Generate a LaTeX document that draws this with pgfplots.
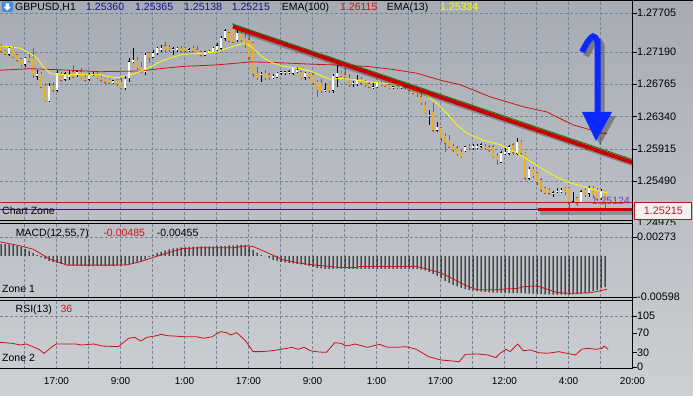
\documentclass[border=0pt]{standalone}
\usepackage{pgfplots}
\pgfplotsset{compat=1.18}
\usepackage{pgfplotstable}
\usepackage{fontspec}
\setmainfont{Liberation Sans}
\definecolor{bgtop}{RGB}{167,172,180}
\definecolor{bgbot}{RGB}{204,207,211}
\definecolor{gridc}{RGB}{118,132,152}
\definecolor{bearfill}{RGB}{240,172,30}
\definecolor{bearline}{RGB}{160,88,18}
\definecolor{emared}{RGB}{200,20,20}
\definecolor{emayel}{RGB}{255,255,0}
\definecolor{trend}{RGB}{200,0,0}
\definecolor{trendg}{RGB}{30,120,30}
\definecolor{lowpur}{RGB}{80,20,120}
\definecolor{purtxt}{RGB}{110,60,200}
\definecolor{arrowblue}{RGB}{10,40,255}
\definecolor{hdrblue}{RGB}{20,20,140}
\definecolor{iconblue}{RGB}{70,140,220}

\pgfplotstableread{
x o h l c
9 1.2716 1.2725 1.2714 1.2724
25 1.2703 1.2712 1.2699 1.2711
37 1.2687 1.2695 1.2682 1.2690
49 1.2655 1.2678 1.2653 1.2674
57 1.2669 1.2695 1.2666 1.2691
65 1.2683 1.2693 1.2681 1.2690
69 1.2687 1.2695 1.2682 1.2689
77 1.2689 1.2695 1.2686 1.2693
89 1.2683 1.2691 1.2681 1.2689
93 1.2689 1.2693 1.2687 1.2690
113 1.2679 1.2682 1.2677 1.2681
125 1.2672 1.2689 1.2669 1.2683
129 1.2685 1.2711 1.2679 1.2706
133 1.2707 1.2724 1.2704 1.2708
145 1.2693 1.2718 1.2689 1.2715
153 1.2712 1.2722 1.2711 1.2718
157 1.2718 1.2725 1.2715 1.2724
161 1.2723 1.2728 1.2719 1.2724
173 1.2722 1.2725 1.2715 1.2723
177 1.2723 1.2725 1.2719 1.2724
189 1.2721 1.2724 1.2719 1.2722
205 1.2715 1.2720 1.2714 1.2719
209 1.2719 1.2722 1.2718 1.2720
213 1.2719 1.2725 1.2718 1.2724
217 1.2722 1.2731 1.2719 1.2727
221 1.2724 1.2740 1.2720 1.2737
225 1.2737 1.2749 1.2733 1.2747
237 1.2735 1.2750 1.2732 1.2744
261 1.2689 1.2693 1.2679 1.2690
273 1.2685 1.2690 1.2683 1.2687
277 1.2686 1.2693 1.2685 1.2691
281 1.2691 1.2694 1.2689 1.2693
285 1.2692 1.2694 1.2689 1.2693
289 1.2692 1.2695 1.2690 1.2693
293 1.2691 1.2699 1.2689 1.2698
297 1.2694 1.2699 1.2691 1.2695
305 1.2686 1.2693 1.2682 1.2691
325 1.2668 1.2678 1.2666 1.2669
333 1.2669 1.2690 1.2665 1.2687
337 1.2686 1.2702 1.2673 1.2691
353 1.2677 1.2681 1.2673 1.2678
357 1.2677 1.2689 1.2674 1.2682
373 1.2672 1.2678 1.2670 1.2673
377 1.2673 1.2679 1.2672 1.2678
393 1.2672 1.2674 1.2670 1.2673
401 1.2672 1.2678 1.2670 1.2674
429 1.2635 1.2643 1.2623 1.2636
437 1.2616 1.2627 1.2614 1.2620
465 1.2589 1.2595 1.2587 1.2594
473 1.2593 1.2598 1.2590 1.2595
477 1.2594 1.2598 1.2591 1.2595
481 1.2595 1.2599 1.2593 1.2597
501 1.2574 1.2589 1.2573 1.2586
505 1.2586 1.2593 1.2583 1.2587
509 1.2586 1.2597 1.2583 1.2594
517 1.2586 1.2606 1.2583 1.2600
529 1.2553 1.2568 1.2551 1.2565
553 1.2533 1.2536 1.2528 1.2534
557 1.2535 1.2540 1.2533 1.2536
561 1.2536 1.2540 1.2533 1.2537
573 1.2521 1.2535 1.2520 1.2522
581 1.2521 1.2537 1.2520 1.2535
589 1.2533 1.2543 1.2528 1.2540
601 1.2527 1.2539 1.2524 1.2536
}\bull

\pgfplotstableread{
x o h l c
1 1.2727 1.2729 1.2719 1.2720
5 1.2720 1.2722 1.2715 1.2716
13 1.2724 1.2727 1.2711 1.2712
17 1.2715 1.2716 1.2706 1.2708
21 1.2710 1.2711 1.2699 1.2702
29 1.2711 1.2718 1.2706 1.2707
33 1.2711 1.2724 1.2685 1.2689
41 1.2690 1.2693 1.2672 1.2673
45 1.2674 1.2678 1.2653 1.2655
53 1.2674 1.2679 1.2666 1.2669
61 1.2689 1.2693 1.2679 1.2682
73 1.2693 1.2702 1.2685 1.2686
81 1.2693 1.2698 1.2683 1.2685
85 1.2686 1.2689 1.2679 1.2682
97 1.2690 1.2693 1.2683 1.2685
101 1.2686 1.2689 1.2679 1.2682
105 1.2683 1.2685 1.2676 1.2679
109 1.2682 1.2683 1.2677 1.2678
117 1.2682 1.2683 1.2674 1.2677
121 1.2679 1.2685 1.2670 1.2672
137 1.2708 1.2712 1.2695 1.2698
141 1.2699 1.2706 1.2691 1.2693
149 1.2718 1.2719 1.2704 1.2711
165 1.2727 1.2732 1.2719 1.2722
169 1.2725 1.2728 1.2719 1.2722
181 1.2724 1.2727 1.2719 1.2720
185 1.2724 1.2725 1.2719 1.2720
193 1.2724 1.2727 1.2719 1.2720
197 1.2722 1.2727 1.2716 1.2718
201 1.2719 1.2720 1.2712 1.2715
229 1.2744 1.2745 1.2732 1.2733
233 1.2750 1.2757 1.2731 1.2732
241 1.2744 1.2748 1.2732 1.2735
245 1.2737 1.2744 1.2724 1.2731
249 1.2735 1.2741 1.2708 1.2712
253 1.2731 1.2732 1.2686 1.2690
257 1.2691 1.2699 1.2682 1.2685
265 1.2691 1.2695 1.2682 1.2685
269 1.2689 1.2691 1.2682 1.2685
301 1.2693 1.2694 1.2683 1.2685
309 1.2691 1.2693 1.2683 1.2686
313 1.2689 1.2691 1.2676 1.2678
317 1.2679 1.2682 1.2660 1.2669
321 1.2678 1.2683 1.2665 1.2668
329 1.2678 1.2679 1.2665 1.2669
341 1.2691 1.2694 1.2686 1.2687
345 1.2689 1.2698 1.2685 1.2686
349 1.2683 1.2690 1.2673 1.2676
361 1.2683 1.2686 1.2676 1.2678
365 1.2679 1.2682 1.2673 1.2676
369 1.2677 1.2679 1.2672 1.2673
381 1.2678 1.2681 1.2674 1.2676
385 1.2678 1.2679 1.2673 1.2674
389 1.2676 1.2678 1.2670 1.2672
397 1.2674 1.2676 1.2670 1.2672
405 1.2676 1.2677 1.2670 1.2673
409 1.2673 1.2678 1.2666 1.2669
413 1.2672 1.2673 1.2664 1.2665
417 1.2670 1.2673 1.2660 1.2664
421 1.2660 1.2666 1.2649 1.2652
425 1.2649 1.2653 1.2637 1.2639
433 1.2640 1.2652 1.2614 1.2616
441 1.2619 1.2620 1.2600 1.2606
445 1.2608 1.2612 1.2587 1.2599
449 1.2603 1.2610 1.2593 1.2594
453 1.2595 1.2598 1.2587 1.2590
457 1.2593 1.2595 1.2582 1.2585
461 1.2587 1.2590 1.2580 1.2581
469 1.2595 1.2598 1.2590 1.2593
485 1.2595 1.2598 1.2590 1.2593
489 1.2594 1.2597 1.2587 1.2590
493 1.2594 1.2597 1.2579 1.2581
497 1.2582 1.2586 1.2570 1.2577
513 1.2597 1.2599 1.2583 1.2587
521 1.2600 1.2603 1.2583 1.2586
525 1.2586 1.2587 1.2551 1.2553
533 1.2565 1.2568 1.2553 1.2556
537 1.2560 1.2561 1.2544 1.2548
541 1.2551 1.2553 1.2535 1.2537
545 1.2540 1.2541 1.2532 1.2533
549 1.2537 1.2540 1.2531 1.2533
565 1.2540 1.2541 1.2531 1.2535
569 1.2540 1.2541 1.25124 1.2520
577 1.2527 1.2528 1.2517 1.2520
585 1.2537 1.2540 1.2528 1.2531
593 1.2540 1.2543 1.2528 1.2531
597 1.2537 1.2540 1.2523 1.2525
605 1.25360 1.25365 1.25138 1.25215
}\bear

\newcommand{\lbl}{\fontsize{10.5}{12}\selectfont}

\pgfplotsset{
  pane/.style={
    scale only axis, width=633pt, xmin=0, xmax=633,
    axis line style={draw=none},
    scaled y ticks=false, scaled x ticks=false,
    xtick={24.5,56.5,...,632.5}, xticklabels={},
    xmajorgrids, ymajorgrids,
    grid style={gridc, dash pattern=on 3pt off 2pt, line width=0.6pt},
    xtick style={draw=none},
    ytick pos=right, yticklabel pos=right,
    ytick align=outside, major tick length=4pt,
    ytick style={draw=black, line width=0.6pt},
    yticklabel style={font=\fontsize{10.8}{12}\selectfont, anchor=west, inner sep=0pt},
    clip=true,
  },
  wick/.style={only marks, mark=*, mark size=0pt, mark options={draw=none, fill=none}, forget plot,
    error bars/.cd, y dir=both, y explicit, error mark=none,
    error mark options={draw=none, fill=none, mark size=0pt},
    error bar style={line width=0.6pt, #1}},
  body/.style 2 args={only marks, mark=*, mark size=0pt, mark options={draw=none, fill=none}, forget plot,
    error bars/.cd, y dir=both, y explicit, error mark=none,
    error mark options={draw=none, fill=none, mark size=0pt},
    error bar style={line width=#1, line cap=butt, #2}},
}

\begin{document}
\begin{tikzpicture}
\useasboundingbox (0,0) rectangle (693pt,396pt);
\shade[top color=bgtop, bottom color=bgbot] (0,0) rectangle (693pt,396pt);

% ---------------- main price pane ----------------
\begin{axis}[pane, at={(0pt,175.5pt)}, anchor=south west, height=220.5pt,
  ymin=1.24972, ymax=1.27874,
  ytick={1.25490,1.25915,1.26340,1.26765,1.27190,1.27705},
  yticklabels={1.25490,1.25915,1.26340,1.26765,1.27190,1.27705}]
% wicks
\addplot[wick={bearline}] table[x=x, y expr={(\thisrow{h}+\thisrow{l})/2}, y error expr={(\thisrow{h}-\thisrow{l})/2}] {\bear};
\addplot[wick={black}] table[x=x, y expr={(\thisrow{h}+\thisrow{l})/2}, y error expr={(\thisrow{h}-\thisrow{l})/2}] {\bull};
% bodies: outline then fill
\addplot[body={2.8pt}{bearline}] table[x=x, y expr={(\thisrow{o}+\thisrow{c})/2}, y error expr={abs(\thisrow{o}-\thisrow{c})/2+0.00007}] {\bear};
\addplot[body={1.4pt}{bearfill}] table[x=x, y expr={(\thisrow{o}+\thisrow{c})/2}, y error expr={abs(\thisrow{o}-\thisrow{c})/2}] {\bear};
\addplot[body={2.8pt}{black}] table[x=x, y expr={(\thisrow{o}+\thisrow{c})/2}, y error expr={abs(\thisrow{o}-\thisrow{c})/2+0.00007}] {\bull};
\addplot[body={1.4pt}{white}] table[x=x, y expr={(\thisrow{o}+\thisrow{c})/2}, y error expr={abs(\thisrow{o}-\thisrow{c})/2}] {\bull};
% EMA(100)
\addplot[emared, line width=0.8pt] coordinates {(0,1.2695)(30,1.2697)(70,1.2695)(100,1.2693)(140,1.2694)(160,1.2697)(183,1.2700)(217,1.2702)(243,1.2705)(250,1.2706)(277,1.2705)(310,1.2703)(333,1.2702)(367,1.2700)(393,1.2696)(417,1.2691)(440,1.2682)(460,1.2676)(490,1.2660)(523,1.2647)(547,1.2640)(573,1.2623)(603,1.2612)(607,1.26115)};
% EMA(13)
\addplot[emayel, line width=0.8pt] coordinates {(0,1.2727)(10,1.2726)(20,1.2724)(30,1.2717)(37,1.2711)(43,1.2700)(50,1.2691)(53,1.2690)(70,1.2689)(100,1.2689)(107,1.2687)(117,1.2685)(123,1.2687)(133,1.2690)(143,1.2695)(150,1.2699)(160,1.2706)(170,1.2711)(183,1.2716)(200,1.2717)(217,1.2719)(227,1.2724)(237,1.2728)(243,1.2730)(248,1.2729)(253,1.2724)(260,1.2715)(270,1.2706)(283,1.2700)(297,1.2698)(310,1.2694)(317,1.2690)(330,1.2683)(340,1.2684)(353,1.2683)(367,1.2680)(383,1.2678)(400,1.2676)(417,1.2671)(427,1.2662)(437,1.2651)(447,1.2638)(457,1.2623)(467,1.2612)(483,1.2603)(500,1.2597)(517,1.2586)(533,1.2573)(550,1.2559)(567,1.2548)(583,1.2542)(597,1.2537)(607,1.25334)};
% bid line and low line
\addplot[emared, line width=0.8pt] coordinates {(0,1.25215)(633,1.25215)};
\addplot[lowpur, line width=0.8pt] coordinates {(0,1.25124)(633,1.25124)};
% trend line with shadow
\addplot[black, opacity=0.25, line width=4pt] coordinates {(235.5,1.27486)(636,1.25699)};
\addplot[trend, line width=4pt] coordinates {(233,1.27525)(632,1.25738)};
\addplot[trendg, line width=0.9pt] coordinates {(232,1.27560)(634,1.25768)};
% horizontal support bar with shadow
\addplot[black, opacity=0.25, line width=3.5pt] coordinates {(540,1.25071)(634,1.25071)};
\addplot[trend, line width=3.5pt] coordinates {(538,1.25117)(632,1.25117)};
% blue arrow with shadow
\addplot[black, opacity=0.3, line width=6pt, smooth] coordinates {(586,1.27137)(591.5,1.27268)(597,1.27341)(601.5,1.27281)(601.5,1.27097)(601.5,1.26334)};
\addplot[black, opacity=0.3, fill=black, draw=none] coordinates {(586,1.26347)(616,1.26347)(600,1.25965)} -- cycle;
\addplot[arrowblue, line width=6pt, smooth] coordinates {(582,1.27190)(587.5,1.27321)(593,1.27394)(597.5,1.27334)(597.5,1.27150)(597.5,1.26387)};
\addplot[fill=arrowblue, draw=none] coordinates {(582,1.26400)(612,1.26400)(596,1.26018)} -- cycle;
\end{axis}

% ---------------- MACD pane ----------------
\begin{axis}[pane, at={(0pt,98.5pt)}, anchor=south west, height=74pt,
  ymin=-0.00605, ymax=0.00469,
  ytick={-0.00598,0.00273}, yticklabels={-0.00598,0.00273}]
\addplot[ybar, bar width=1pt, fill=black, draw=none] coordinates {(1,0.00170)(5,0.00170)(9,0.00167)(13,0.00160)(17,0.00145)(21,0.00131)(25,0.00102)(29,0.00073)(33,0.00044)(37,0.00015)(41,-0.00022)(45,-0.00044)(49,-0.00073)(53,-0.00087)(57,-0.00102)(61,-0.00116)(65,-0.00131)(69,-0.00135)(73,-0.00138)(77,-0.00142)(81,-0.00145)(85,-0.00147)(89,-0.00145)(93,-0.00148)(97,-0.00145)(101,-0.00146)(105,-0.00148)(109,-0.00147)(113,-0.00145)(117,-0.00143)(121,-0.00138)(125,-0.00131)(129,-0.00116)(133,-0.00102)(137,-0.00087)(141,-0.00073)(145,-0.00051)(149,-0.00015)(153,0.00015)(157,0.00044)(161,0.00058)(165,0.00080)(169,0.00094)(173,0.00109)(177,0.00116)(181,0.00121)(185,0.00123)(189,0.00131)(193,0.00135)(197,0.00135)(201,0.00136)(205,0.00138)(209,0.00137)(213,0.00138)(217,0.00140)(221,0.00142)(225,0.00146)(229,0.00150)(233,0.00153)(237,0.00160)(241,0.00160)(245,0.00155)(249,0.00131)(253,0.00087)(257,0.00048)(261,0.00015)(265,-0.00005)(269,-0.00029)(273,-0.00058)(277,-0.00073)(281,-0.00087)(285,-0.00097)(289,-0.00102)(293,-0.00109)(297,-0.00116)(301,-0.00123)(305,-0.00131)(309,-0.00145)(313,-0.00160)(317,-0.00174)(321,-0.00182)(325,-0.00189)(329,-0.00191)(333,-0.00189)(337,-0.00186)(341,-0.00185)(345,-0.00186)(349,-0.00189)(353,-0.00190)(357,-0.00189)(361,-0.00188)(365,-0.00189)(369,-0.00190)(373,-0.00191)(377,-0.00190)(381,-0.00189)(385,-0.00189)(389,-0.00190)(393,-0.00191)(397,-0.00191)(401,-0.00190)(405,-0.00190)(409,-0.00191)(413,-0.00193)(417,-0.00195)(421,-0.00200)(425,-0.00211)(429,-0.00232)(433,-0.00261)(437,-0.00290)(441,-0.00327)(445,-0.00363)(449,-0.00392)(453,-0.00421)(457,-0.00443)(461,-0.00465)(465,-0.00479)(469,-0.00494)(473,-0.00501)(477,-0.00510)(481,-0.00520)(485,-0.00525)(489,-0.00530)(493,-0.00533)(497,-0.00536)(501,-0.00538)(505,-0.00540)(509,-0.00541)(513,-0.00542)(517,-0.00543)(521,-0.00543)(525,-0.00545)(529,-0.00548)(533,-0.00550)(537,-0.00553)(541,-0.00556)(545,-0.00558)(549,-0.00560)(553,-0.00562)(557,-0.00563)(561,-0.00563)(565,-0.00562)(569,-0.00563)(573,-0.00560)(577,-0.00555)(581,-0.00548)(585,-0.00538)(589,-0.00525)(593,-0.00510)(597,-0.00493)(601,-0.00474)(605,-0.00455)};
\addplot[emared, line width=0.8pt] coordinates {(0,0.00203)(20,0.00145)(33,0.00097)(50,-0.00048)(67,-0.00135)(117,-0.00135)(127,-0.00131)(140,-0.00087)(153,-0.00025)(167,0.00039)(183,0.00106)(200,0.00116)(233,0.00116)(247,0.00145)(253,0.00135)(267,0.00048)(283,-0.00058)(300,-0.00106)(313,-0.00131)(330,-0.00155)(340,-0.00170)(355,-0.00170)(360,-0.00155)(417,-0.00155)(427,-0.00193)(440,-0.00243)(453,-0.00334)(467,-0.00436)(477,-0.00494)(497,-0.00494)(507,-0.00479)(517,-0.00475)(523,-0.00450)(537,-0.00436)(547,-0.00484)(557,-0.00533)(570,-0.00545)(590,-0.00537)(600,-0.00508)(607,-0.00485)};
\end{axis}

% ---------------- RSI pane ----------------
\begin{axis}[pane, at={(0pt,27pt)}, anchor=south west, height=68.5pt,
  ymin=-4.1, ymax=136.8, ymajorgrids=false,
  ytick={0,30,70,105}, yticklabels={0,30,70,105},
  xticklabels={,17:00,,9:00,,1:00,,17:00,,9:00,,1:00,,17:00,,12:00,,4:00,,20:00},
  xticklabel style={font=\fontsize{10}{12}\selectfont, anchor=north, inner sep=0pt, yshift=-8pt}]
\addplot[gridc, dash pattern=on 3pt off 2pt, line width=0.6pt, forget plot] coordinates {(0,105)(633,105)};
\addplot[emared, line width=0.8pt] coordinates {(0,50.8)(12.2,48.7)(20.4,45.3)(26.5,47.3)(32.7,41.8)(38.8,36.4)(44.1,28.1)(49,36.4)(53,43.2)(56.3,47.3)(65.3,47.3)(75.5,47.3)(81.6,45.3)(93.9,47.3)(102,43.2)(118.4,41.8)(122.4,48.7)(128.6,59.0)(134.7,61.0)(140.8,53.5)(146.9,61.0)(155.1,63.8)(161.2,67.2)(167.3,64.5)(183.7,62.4)(195.9,62.4)(204.1,59.0)(212.2,62.4)(220.4,72.7)(226.5,70.6)(230.6,65.8)(236.7,70.6)(244.9,55.6)(253.1,31.6)(261.2,31.6)(269.4,32.9)(281.6,36.4)(291.8,40.5)(298,36.4)(304.1,40.5)(310.2,33.6)(318.4,30.9)(326.5,30.2)(334.7,50.1)(340.8,48.7)(346.9,43.2)(355.1,47.3)(367.3,40.5)(379.6,46.6)(387.8,40.5)(395.9,40.5)(406.1,41.8)(416.3,36.4)(428.6,21.3)(440.8,14.4)(449,13.0)(459.2,10.9)(465.3,26.1)(477.6,26.7)(487.8,24.7)(495.9,19.2)(500,28.1)(506.1,36.4)(510.2,31.6)(517.6,47.3)(523.3,33.6)(530.6,35.0)(538.8,29.5)(546.9,28.1)(559.2,31.6)(563.3,29.5)(575.5,24.7)(581.6,36.4)(587.8,38.4)(595.9,36.4)(602,38.4)(604.1,43.2)(608.2,36.4)};
\end{axis}

% ---------------- frames ----------------
\draw[black, line width=1pt] (0,395.5pt) -- (693pt,395.5pt);
\draw[black, line width=1pt] (0,175.5pt) -- (633pt,175.5pt);
\draw[black, line width=1pt] (0,172.7pt) -- (633pt,172.7pt);
\draw[black, line width=1pt] (0,98.5pt) -- (633pt,98.5pt);
\draw[black, line width=1pt] (0,95.5pt) -- (633pt,95.5pt);
\draw[black, line width=1pt] (0,27pt) -- (633pt,27pt);
\draw[black, line width=1pt] (632.8pt,27pt) -- (632.8pt,396pt);

% partially hidden bottom price label
\begin{scope}
\clip (634pt,171pt) rectangle (693pt,180pt);
\node[anchor=west, inner sep=0pt, font=\fontsize{10.8}{12}\selectfont] at (637pt,173.7pt) {1.24975};
\end{scope}
% current price box
\node[draw=emared, fill={rgb,255:red,242;green,242;blue,242}, line width=0.8pt, minimum width=57pt, minimum height=17pt, inner sep=0pt, text=emared, font=\fontsize{10.8}{12}\selectfont] at (663.3pt,185pt) {1.25215};
% low label
\node[anchor=base east, inner sep=0pt, text=purtxt, font=\lbl] at (630pt,191pt) {1.25124};

% header
\fill[iconblue, rounded corners=1.5pt] (1.5pt,384pt) rectangle (13pt,394.5pt);
\fill[white] (5.5pt,392.5pt) -- (9pt,392.5pt) -- (9pt,389pt) -- (11pt,389pt) -- (7.25pt,385.5pt) -- (3.5pt,389pt) -- (5.5pt,389pt) -- cycle;
\node[anchor=base west, inner sep=0pt, font=\lbl] at (15pt,385pt) {GBPUSD,H1};
\node[anchor=base west, inner sep=0pt, font=\lbl, text=hdrblue] at (86pt,385pt) {1.25360};
\node[anchor=base west, inner sep=0pt, font=\lbl, text=hdrblue] at (135pt,385pt) {1.25365};
\node[anchor=base west, inner sep=0pt, font=\lbl, text=hdrblue] at (184pt,385pt) {1.25138};
\node[anchor=base west, inner sep=0pt, font=\lbl, text=hdrblue] at (231.7pt,385pt) {1.25215};
\node[anchor=base west, inner sep=0pt, font=\lbl] at (281.7pt,385pt) {EMA(100)};
\node[anchor=base west, inner sep=0pt, font=\lbl, text=emared] at (340pt,385pt) {1.26115};
\node[anchor=base west, inner sep=0pt, font=\lbl] at (386.7pt,385pt) {EMA(13)};
\node[anchor=base west, inner sep=0pt, font=\lbl, text=emayel] at (440pt,385pt) {1.25334};

\node[anchor=base west, inner sep=0pt, font=\lbl] at (2pt,181pt) {Chart Zone};
\node[anchor=base west, inner sep=0pt, font=\lbl] at (15.7pt,159.5pt) {MACD(12,55,7)};
\node[anchor=base west, inner sep=0pt, font=\lbl, text=emared] at (103.3pt,159.5pt) {-0.00485};
\node[anchor=base west, inner sep=0pt, font=\lbl] at (156.7pt,159.5pt) {-0.00455};
\node[anchor=base west, inner sep=0pt, font=\lbl] at (2pt,103pt) {Zone 1};
\node[anchor=base west, inner sep=0pt, font=\lbl] at (15.5pt,83pt) {RSI(13)};
\node[anchor=base west, inner sep=0pt, font=\lbl, text=emared] at (60.4pt,83pt) {36};
\node[anchor=base west, inner sep=0pt, font=\lbl] at (2pt,34pt) {Zone 2};
\end{tikzpicture}
\end{document}
